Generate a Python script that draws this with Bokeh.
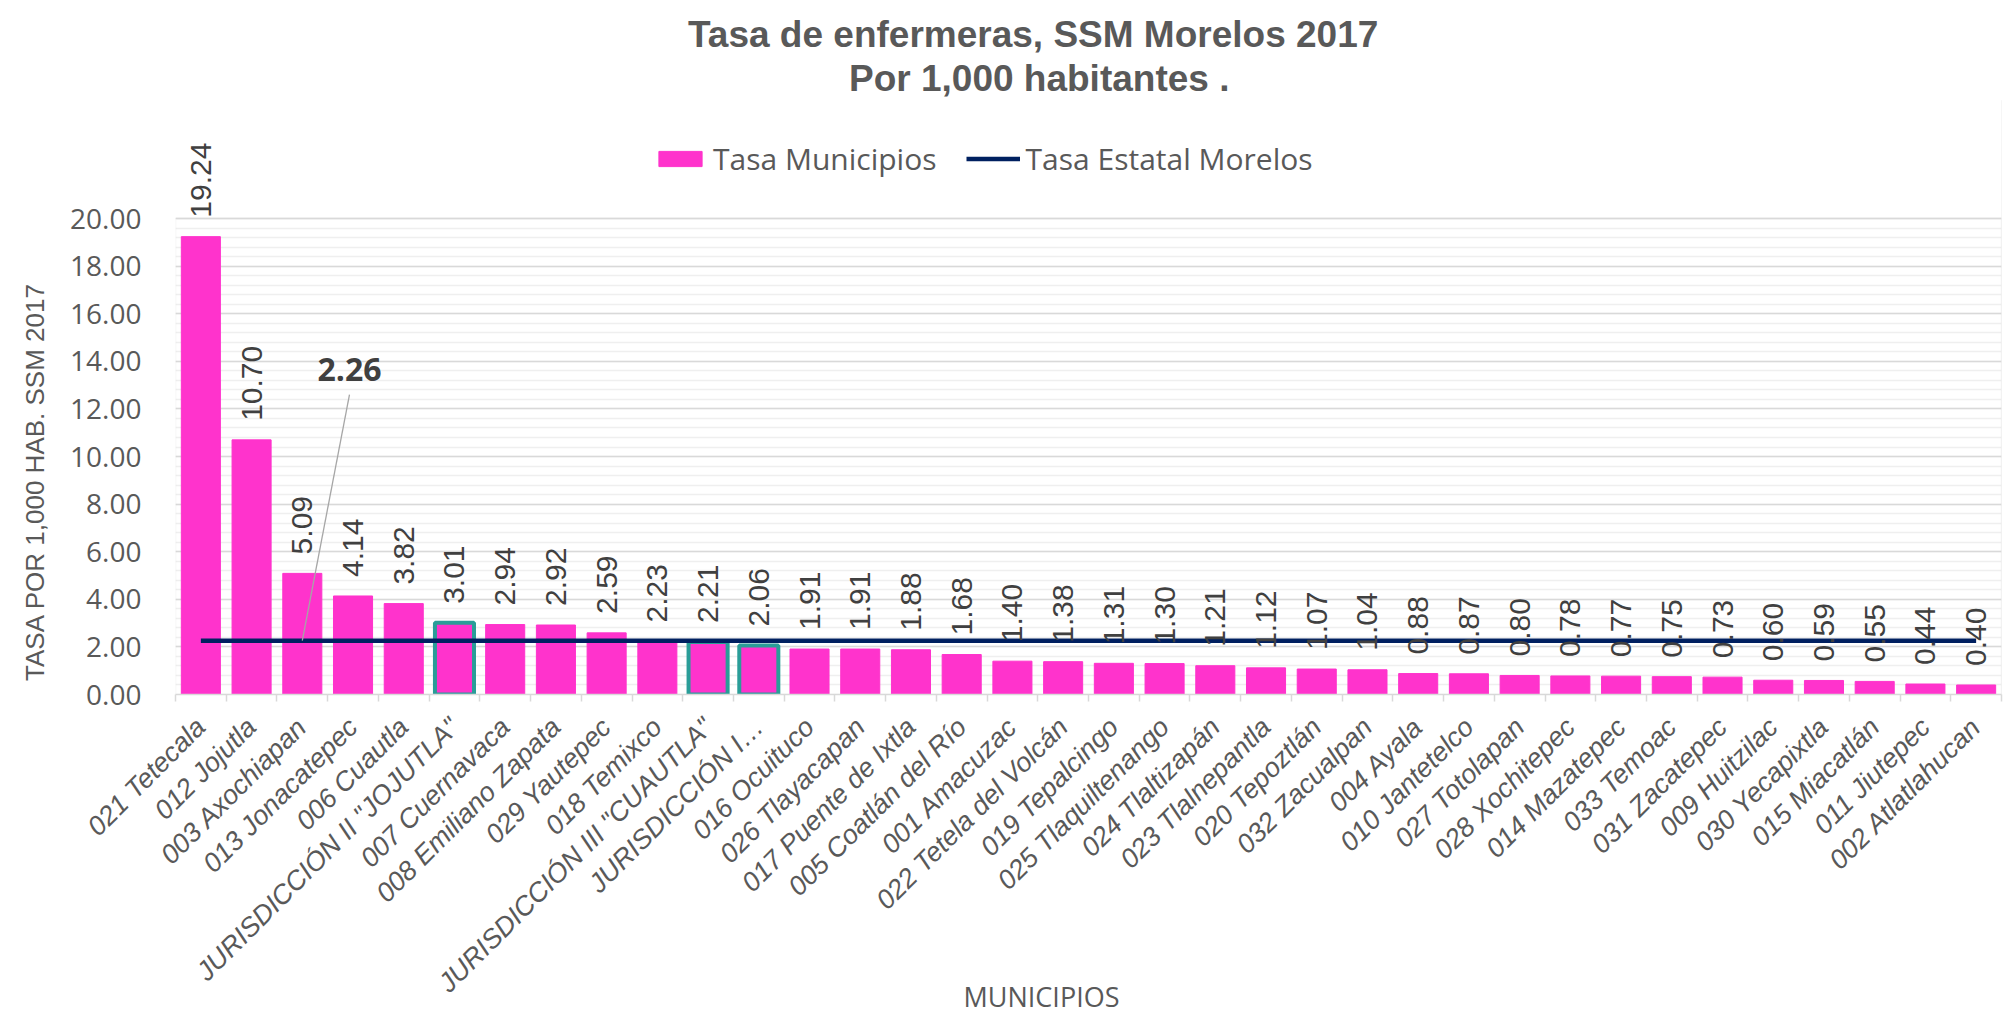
from math import pi
from bokeh.plotting import figure
from bokeh.models import (ColumnDataSource, FixedTicker, Legend, LegendItem, Title,
                          Label, LabelSet, Range1d, PrintfTickFormatter, BoxAnnotation)
from bokeh.core.properties import value
from bokeh.embed import file_html
from bokeh.resources import INLINE

# ---------------- data ----------------
MUNICIPIOS = [
    "021 Tetecala", "012 Jojutla", "003 Axochiapan", "013 Jonacatepec", "006 Cuautla",
    'JURISDICCIÓN II "JOJUTLA"', "007 Cuernavaca", "008 Emiliano Zapata", "029 Yautepec",
    "018 Temixco", 'JURISDICCIÓN III "CUAUTLA"', "JURISDICCIÓN I…", "016 Ocuituco",
    "026 Tlayacapan", "017 Puente de Ixtla", "005 Coatlán del Río", "001 Amacuzac",
    "022 Tetela del Volcán", "019 Tepalcingo", "025 Tlaquiltenango", "024 Tlaltizapán",
    "023 Tlalnepantla", "020 Tepoztlán", "032 Zacualpan", "004 Ayala", "010 Jantetelco",
    "027 Totolapan", "028 Xochitepec", "014 Mazatepec", "033 Temoac", "031 Zacatepec",
    "009 Huitzilac", "030 Yecapixtla", "015 Miacatlán", "011 Jiutepec", "002 Atlatlahucan",
]
TASA_MUNICIPIOS = [
    19.24, 10.70, 5.09, 4.14, 3.82, 3.01, 2.94, 2.92, 2.59, 2.23, 2.21, 2.06,
    1.91, 1.91, 1.88, 1.68, 1.40, 1.38, 1.31, 1.30, 1.21, 1.12, 1.07, 1.04,
    0.88, 0.87, 0.80, 0.78, 0.77, 0.75, 0.73, 0.60, 0.59, 0.55, 0.44, 0.40,
]
TASA_ESTATAL = [
    2.26, 2.26, 2.26, 2.26, 2.26, 2.26, 2.26, 2.26, 2.26, 2.26, 2.26, 2.26,
    2.26, 2.26, 2.26, 2.26, 2.26, 2.26, 2.26, 2.26, 2.26, 2.26, 2.26, 2.26,
    2.26, 2.26, 2.26, 2.26, 2.26, 2.26, 2.26, 2.26, 2.26, 2.26, 2.26, 2.26,
]
JURISDICCIONES = ['JURISDICCIÓN II "JOJUTLA"', 'JURISDICCIÓN III "CUAUTLA"', "JURISDICCIÓN I…"]
ESTATAL_LABEL_INDEX = 2
Y_TICKS = [0, 2, 4, 6, 8, 10, 12, 14, 16, 18, 20]

TITLE_1 = "Tasa de enfermeras, SSM Morelos 2017"
TITLE_2 = "Por 1,000 habitantes ."
Y_LABEL = "TASA POR 1,000 HAB. SSM 2017"
X_LABEL = "MUNICIPIOS"

# ---------------- styles ----------------
PINK = "#FF33CC"
NAVY = "#002060"
TEAL = "#2A9D98"
GRAY_TXT = "#595959"
DARK_TXT = "#404040"
GRID = "#D9D9D9"
Y_END = 24.96          # headroom above the plot area for labels / legend

idx = list(range(len(MUNICIPIOS)))
src = ColumnDataSource(dict(
    x=idx, top=TASA_MUNICIPIOS, name=MUNICIPIOS,
    label=["%.2f" % v for v in TASA_MUNICIPIOS],
))
hi = [i for i, n in enumerate(MUNICIPIOS) if n in JURISDICCIONES]
src_hi = ColumnDataSource(dict(x=[idx[i] for i in hi], top=[TASA_MUNICIPIOS[i] for i in hi]))

p = figure(width=2008, height=1022, x_range=Range1d(-0.5, len(MUNICIPIOS) - 0.5),
           y_range=Range1d(Y_TICKS[0], Y_END), output_backend="svg",
           toolbar_location=None, title=None,
           min_border_left=175, min_border_right=7, min_border_top=100, min_border_bottom=328)
p.background_fill_color = "white"
p.border_fill_color = "white"
p.outline_line_color = None
# light chart-area frame around the whole chart
p.styles = {"outline": "1.5px solid #D9D9D9", "outline-offset": "-7px"}

# plot-area border (0 .. 20)
p.add_layout(BoxAnnotation(left=-0.5, right=len(MUNICIPIOS) - 0.5, bottom=Y_TICKS[0], top=Y_TICKS[-1],
                           fill_alpha=0, line_color=GRID, line_width=1.5, level="underlay"))

bars = p.vbar(x="x", top="top", width=0.77, source=src, fill_color=PINK, line_color=PINK, line_width=1)
p.vbar(x="x", top="top", width=0.77, source=src_hi, fill_color=None, line_color=TEAL, line_width=4)
line = p.line(idx, TASA_ESTATAL, line_color=NAVY, line_width=4.5)

# leader line + state value label
lx, ly = ESTATAL_LABEL_INDEX + 0.93, TASA_ESTATAL[ESTATAL_LABEL_INDEX] + 10.34
p.segment(x0=[idx[ESTATAL_LABEL_INDEX]], y0=[TASA_ESTATAL[ESTATAL_LABEL_INDEX]],
          x1=[lx], y1=[ly], line_color="#A6A6A6", line_width=1.3)
p.add_layout(Label(x=lx, y=ly + 1.07, text="%.2f" % TASA_ESTATAL[ESTATAL_LABEL_INDEX],
                   text_font="Open Sans", text_font_style="bold", text_font_size="32px",
                   text_color=DARK_TXT, text_align="center", text_baseline="middle"))

# data labels
p.add_layout(LabelSet(x="x", y="top", text="label", source=src, angle=pi / 2, y_offset=19,
                      text_align="left", text_baseline="middle",
                      text_font=value("Liberation Sans"),
                      text_font_size=value("30px"), text_color=DARK_TXT))

# grid
minor_y = [i * 0.4 for i in range(51)]
p.xgrid.visible = False
p.ygrid.ticker = FixedTicker(ticks=Y_TICKS, minor_ticks=minor_y)
p.ygrid.grid_line_color = GRID
p.ygrid.grid_line_width = 1.5
p.ygrid.minor_grid_line_color = "#EFEFEF"
p.ygrid.minor_grid_line_width = 1.5

# y axis
ya = p.yaxis[0]
ya.ticker = FixedTicker(ticks=Y_TICKS)
ya.formatter = PrintfTickFormatter(format="%.2f")
ya.major_tick_line_color = None
ya.minor_tick_line_color = None
ya.axis_line_color = None
ya.major_label_standoff = 28
ya.major_label_text_font = "Open Sans"
ya.major_label_text_font_size = "28px"
ya.major_label_text_color = GRAY_TXT

# x axis
xa = p.xaxis[0]
xa.ticker = FixedTicker(ticks=idx, minor_ticks=[i - 0.5 for i in range(len(MUNICIPIOS) + 1)])
xa.major_label_overrides = {i: n for i, n in zip(idx, MUNICIPIOS)}
xa.major_tick_line_color = None
xa.minor_tick_in = 0
xa.minor_tick_out = 7
xa.minor_tick_line_color = GRID
xa.minor_tick_line_width = 1.5
xa.axis_line_color = GRID
xa.axis_line_width = 1.5
xa.major_label_orientation = pi / 4
xa.major_label_standoff = 21
xa.major_label_text_font = "Liberation Sans"
xa.major_label_text_font_style = "italic"
xa.major_label_text_font_size = "27px"
xa.major_label_text_color = GRAY_TXT

# axis titles (as side-panel titles so they can be placed like the original)
p.add_layout(Title(text=Y_LABEL, align="left", offset=13.5, vertical_align="middle", standoff=34,
                   text_font="Liberation Sans", text_font_style="normal", text_font_size="26px",
                   text_color=GRAY_TXT), "left")
p.add_layout(Title(text=X_LABEL, align="left", offset=788, vertical_align="top", standoff=-67,
                   text_font="Open Sans", text_font_style="normal", text_font_size="27px",
                   text_color=GRAY_TXT), "below")

# chart titles
p.add_layout(Title(text=TITLE_2, align="left", offset=673.5, standoff=3, text_font="Liberation Sans",
                   text_font_style="bold", text_font_size="37px", text_color=GRAY_TXT), "above")
p.add_layout(Title(text=TITLE_1, align="left", offset=512.5, standoff=0, text_font="Liberation Sans",
                   text_font_style="bold", text_font_size="37px", text_color=GRAY_TXT), "above")

# legend
legend = Legend(items=[LegendItem(label="Tasa Municipios", renderers=[bars]),
                       LegendItem(label="Tasa Estatal Morelos", renderers=[line])],
                orientation="horizontal", location=(478, 515.5), padding=0, margin=0,
                spacing=29, glyph_width=54, glyph_height=19, label_standoff=6,
                label_text_font="Open Sans", label_text_font_size="30px",
                label_text_color=GRAY_TXT, border_line_color=None, background_fill_alpha=0)
p.add_layout(legend, "center")

open("out.html", "w").write(file_html(p, INLINE))
